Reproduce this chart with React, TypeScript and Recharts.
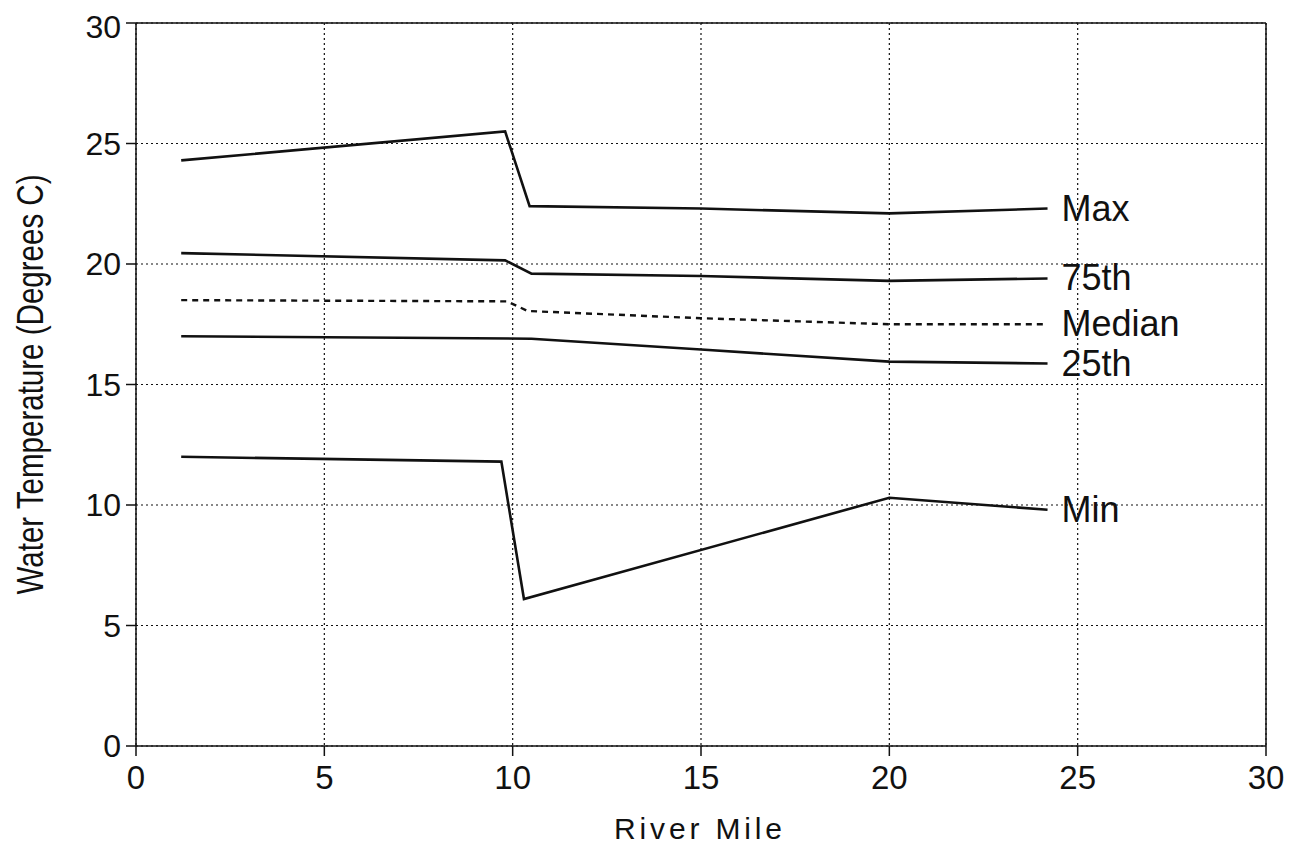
import React from 'react';
import { LineChart, Line, XAxis, YAxis, CartesianGrid, ReferenceLine } from 'recharts';

// river mile vs. water temperature, one small array per statistic
const maxSeries = [
  { mile: 1.2, t: 24.3 },
  { mile: 9.8, t: 25.5 },
  { mile: 10.45, t: 22.4 },
  { mile: 15, t: 22.3 },
  { mile: 20, t: 22.1 },
  { mile: 24.2, t: 22.3 },
];
const p75Series = [
  { mile: 1.2, t: 20.45 },
  { mile: 9.8, t: 20.15 },
  { mile: 10.5, t: 19.6 },
  { mile: 15, t: 19.5 },
  { mile: 20, t: 19.3 },
  { mile: 24.2, t: 19.4 },
];
const medianSeries = [
  { mile: 1.2, t: 18.5 },
  { mile: 9.85, t: 18.45 },
  { mile: 10.4, t: 18.05 },
  { mile: 15, t: 17.75 },
  { mile: 20, t: 17.5 },
  { mile: 24.2, t: 17.5 },
];
const p25Series = [
  { mile: 1.2, t: 17.0 },
  { mile: 10.5, t: 16.9 },
  { mile: 15, t: 16.45 },
  { mile: 20, t: 15.95 },
  { mile: 24.2, t: 15.87 },
];
const minSeries = [
  { mile: 1.2, t: 12.0 },
  { mile: 9.7, t: 11.8 },
  { mile: 10.3, t: 6.1 },
  { mile: 20, t: 10.3 },
  { mile: 24.2, t: 9.8 },
];

const ticks = [0, 5, 10, 15, 20, 25, 30];
const font = '"Liberation Sans", Arial, sans-serif';

const endLabel = (name: string, count: number) => (props: any) => {
  const { x, y, index } = props;
  if (index !== count - 1) return null;
  return (
    <text x={x + 14} y={y + 12} fontSize={36} fontFamily={font} fill="#111">
      {name}
    </text>
  );
};

// y-axis title: tall, narrow lettering as in the scanned figure
const YTitle = (props: any) => {
  const vb = props.viewBox || { x: 0, y: 0, width: 0, height: 0 };
  const cx = 35;
  const cy = vb.y + vb.height / 2;
  return (
    <text
      x={cx}
      y={cy}
      transform={`rotate(-90 ${cx} ${cy})`}
      textAnchor="middle"
      fontSize={36}
      fontFamily={font}
      fill="#111"
      textLength={420}
      lengthAdjust="spacingAndGlyphs"
    >
      Water Temperature (Degrees C)
    </text>
  );
};

// x-axis title: widely spaced lettering
const XTitle = (props: any) => {
  const vb = props.viewBox || { x: 0, y: 0, width: 0, height: 0 };
  return (
    <text
      x={vb.x + vb.width / 2 - 3}
      y={831}
      textAnchor="middle"
      fontSize={30}
      fontFamily={font}
      fill="#111"
      textLength={168}
      lengthAdjust="spacing"
    >
      River Mile
    </text>
  );
};

export default function App() {
  return (
    <LineChart width={1280} height={838} margin={{ top: 15, right: 22, bottom: 0, left: 0 }}>
      <CartesianGrid stroke="#111" strokeDasharray="2 3" strokeWidth={1.2} horizontalValues={ticks} verticalValues={ticks} />
      <XAxis
        type="number"
        dataKey="mile"
        domain={[0, 30]}
        ticks={ticks}
        height={100}
        stroke="#111"
        strokeWidth={1.5}
        tickSize={10}
        tickMargin={4}
        tick={{ fontSize: 33, fontFamily: font, fill: '#111', dy: 6 }}
        label={{ content: XTitle }}
      />
      <YAxis
        type="number"
        domain={[0, 30]}
        ticks={ticks}
        width={128}
        stroke="#111"
        strokeWidth={1.5}
        tickSize={10}
        tickMargin={5}
        tick={{ fontSize: 32, fontFamily: font, fill: '#111' }}
        label={{ content: YTitle }}
      />
      <ReferenceLine y={30} stroke="#111" strokeWidth={1.5} />
      <ReferenceLine x={30} stroke="#111" strokeWidth={1.5} />
      <Line data={maxSeries} dataKey="t" stroke="#111" strokeWidth={2.6} dot={false} isAnimationActive={false}
        label={endLabel('Max', maxSeries.length)} />
      <Line data={p75Series} dataKey="t" stroke="#111" strokeWidth={2.6} dot={false} isAnimationActive={false}
        label={endLabel('75th', p75Series.length)} />
      <Line data={medianSeries} dataKey="t" stroke="#111" strokeWidth={2.4} strokeDasharray="6 5" dot={false} isAnimationActive={false}
        label={endLabel('Median', medianSeries.length)} />
      <Line data={p25Series} dataKey="t" stroke="#111" strokeWidth={2.6} dot={false} isAnimationActive={false}
        label={endLabel('25th', p25Series.length)} />
      <Line data={minSeries} dataKey="t" stroke="#111" strokeWidth={2.6} dot={false} isAnimationActive={false}
        label={endLabel('Min', minSeries.length)} />
    </LineChart>
  );
}
